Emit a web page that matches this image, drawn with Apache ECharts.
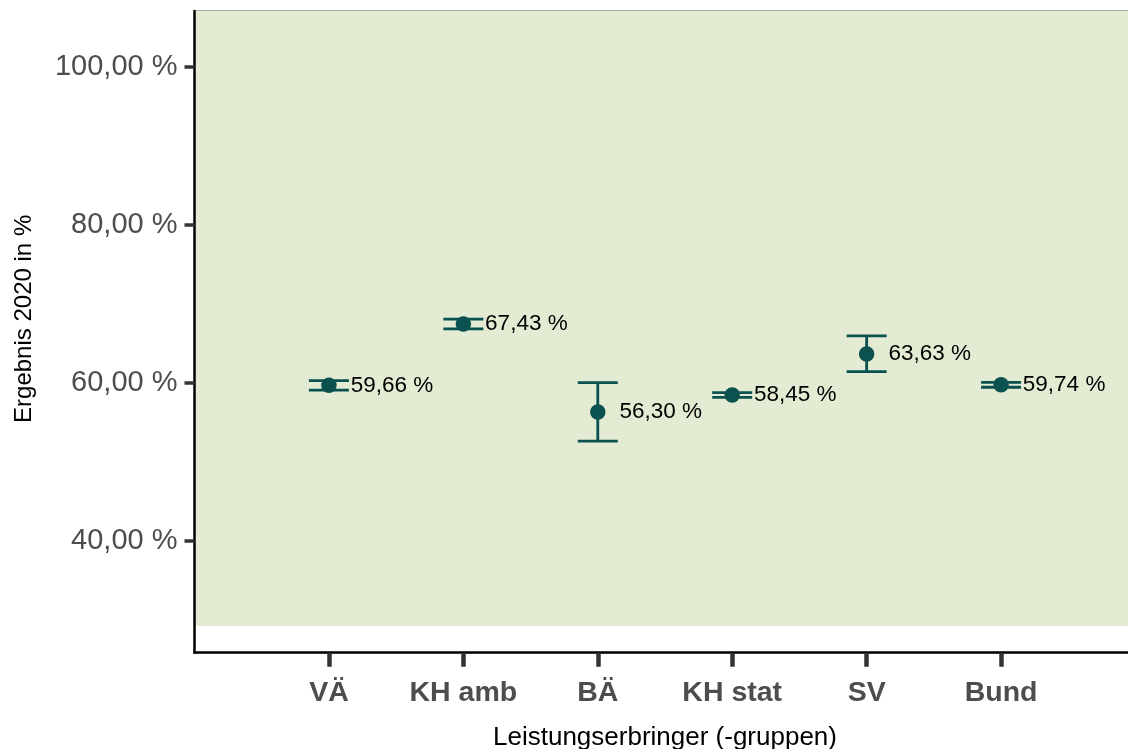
<!DOCTYPE html>
<html>
<head>
<meta charset="utf-8">
<script src="https://cdn.jsdelivr.net/npm/echarts@6/dist/echarts.min.js"></script>
<style>
html,body{margin:0;padding:0;background:#fff;}
#c{width:1128px;height:749px;}
</style>
</head>
<body>
<div id="c"></div>
<script>
// ---- data ----
const categories = ['VÄ', 'KH amb', 'BÄ', 'KH stat', 'SV', 'Bund'];
const values = [59.66, 67.43, 56.30, 58.45, 63.63, 59.74];
const lowerCI = [59.05, 66.80, 52.60, 58.15, 61.40, 59.42];
const upperCI = [60.25, 68.05, 60.02, 58.75, 65.92, 60.05];
const yTicks = [40, 60, 80, 100];
const referenceFrom = 29.2;

const teal = '#0b5150';
const fmt = v => v.toFixed(2).replace('.', ',') + ' %';

const xPos = categories.map((c, i) => i + 1);
const pointData = values.map((v, i) => [xPos[i], v]);
const ciData = values.map((v, i) => [xPos[i], lowerCI[i], upperCI[i]]);

const Y_MIN = 25.82, Y_MAX = 107.05;

const chart = echarts.init(document.getElementById('c'), null, {renderer: 'canvas'});
chart.setOption({
  animation: false,
  backgroundColor: '#ffffff',
  textStyle: {fontFamily: 'Liberation Sans, Arial, sans-serif'},
  grid: {
    left: 194.5, width: 941, top: 11, height: 641.7,
    outerBoundsMode: 'none', containLabel: false,
    show: true, borderColor: '#4a5a3c', borderWidth: 1, backgroundColor: 'transparent'
  },
  xAxis: {
    type: 'value', min: 0, max: 7, z: 10,
    splitLine: {show: false},
    axisLine: {show: true, onZero: false, lineStyle: {color: '#000', width: 2.5}},
    axisTick: {show: true, length: 14, customValues: xPos, lineStyle: {color: '#333', width: 4.5}},
    axisLabel: {
      customValues: xPos, margin: 26,
      fontSize: 28.5, fontWeight: 'bold', color: '#4d4d4d',
      formatter: v => categories[Math.round(v) - 1] || ''
    },
    name: 'Leistungserbringer (-gruppen)', nameLocation: 'middle', nameGap: 72,
    nameTextStyle: {fontSize: 26, color: '#000'}
  },
  yAxis: {
    type: 'value', min: Y_MIN, max: Y_MAX, z: 10,
    splitLine: {show: false},
    axisLine: {show: true, onZero: false, lineStyle: {color: '#000', width: 2.5}},
    axisTick: {show: true, length: 10, customValues: yTicks, lineStyle: {color: '#333', width: 3.5}},
    axisLabel: {
      customValues: yTicks, margin: 17,
      fontSize: 29, color: '#4d4d4d',
      formatter: v => fmt(v)
    },
    name: 'Ergebnis 2020 in %', nameLocation: 'middle', nameGap: 158,
    nameTextStyle: {fontSize: 24, color: '#000', padding: [0, 0, 0, 26]}
  },
  series: [
    {
      type: 'custom',
      z: 3,
      data: ciData,
      markArea: {
        silent: true,
        itemStyle: {color: '#e3ebd3'},
        data: [[{yAxis: referenceFrom}, {yAxis: Y_MAX}]]
      },
      renderItem: function (params, api) {
        const x = api.value(0);
        const lo = api.coord([x, api.value(1)]);
        const hi = api.coord([x, api.value(2)]);
        const hw = 20;
        const style = {stroke: teal, lineWidth: 2.8, fill: null};
        return {
          type: 'group',
          children: [
            {type: 'line', shape: {x1: lo[0], y1: lo[1], x2: hi[0], y2: hi[1]}, style: style},
            {type: 'line', shape: {x1: lo[0] - hw, y1: lo[1], x2: lo[0] + hw, y2: lo[1]}, style: style},
            {type: 'line', shape: {x1: hi[0] - hw, y1: hi[1], x2: hi[0] + hw, y2: hi[1]}, style: style}
          ]
        };
      }
    },
    {
      type: 'scatter',
      z: 4,
      data: pointData,
      symbol: 'circle',
      symbolSize: 15.5,
      itemStyle: {color: teal, opacity: 1},
      label: {
        show: true, position: 'right', distance: 14,
        fontSize: 22.5, color: '#000',
        formatter: p => fmt(p.value[1])
      }
    }
  ]
});
</script>
</body>
</html>
